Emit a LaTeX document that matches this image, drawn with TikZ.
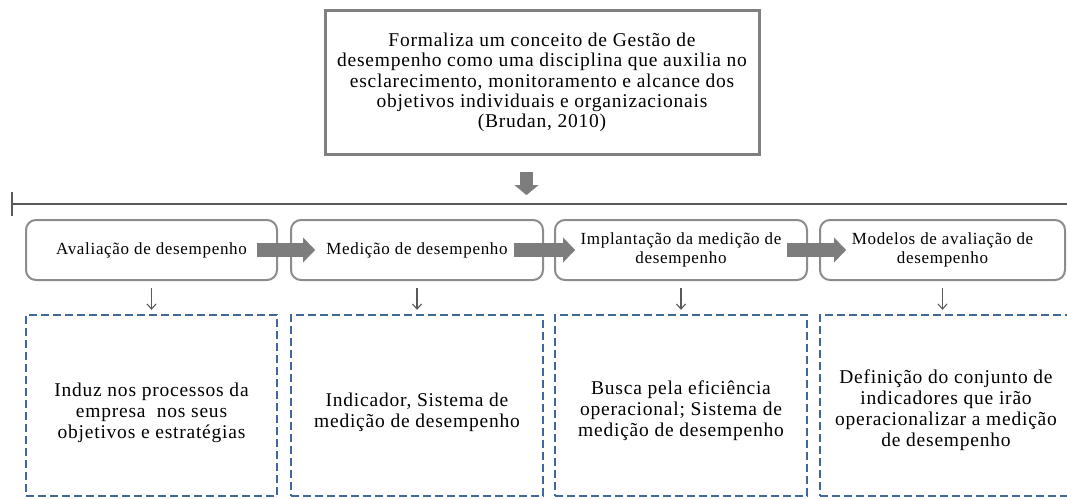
\documentclass[tikz,border=0pt]{standalone}
\usepackage{fontspec}
\setmainfont{Liberation Serif}[LetterSpace=4]
\usetikzlibrary{arrows.meta}
\definecolor{boxgray}{RGB}{140,140,140}
\definecolor{topgray}{RGB}{128,128,128}
\definecolor{arrgray}{RGB}{125,125,125}
\definecolor{linegray}{RGB}{90,90,90}
\definecolor{dashblue}{RGB}{66,103,155}
\newcommand\topfnt{\fontsize{19.5}{20.4}\selectfont}
\newcommand\rowfnt{\fontsize{17}{19.5}\selectfont}
\newcommand\botfnt{\fontsize{19.5}{21}\selectfont}
\tikzset{
  topbox/.style={draw=topgray, line width=3pt, fill=white, minimum width=434pt, minimum height=143pt, align=center, inner sep=0pt, font=\topfnt},
  roundbox/.style={draw=boxgray, line width=2pt, rounded corners=10pt, fill=white, minimum height=60pt, align=center, inner sep=0pt, font=\rowfnt},
  dashbox/.style={draw=dashblue, line width=2.4pt, dash pattern=on 8pt off 4pt, minimum height=181pt, inner sep=0pt},
  desc/.style={align=center, inner sep=0pt, font=\botfnt},
  blockarrow/.style={draw=arrgray, line width=14pt, -{Triangle[length=12pt,width=25pt,line width=0.1pt]}},
  blockdown/.style={draw=arrgray, line width=13pt, -{Triangle[length=10pt,width=24pt,line width=0.1pt]}},
  smallarr/.style={draw=linegray, line width=1.1pt, -{Straight Barb[length=5pt,width=9pt]}},
  hline/.style={draw=linegray, line width=1.5pt}
}
\begin{document}
\begin{tikzpicture}[x=1pt,y=-1pt]
\useasboundingbox[fill=white] (0,0) rectangle (1067,500);
% top box
\node[topbox] (top) at (542,82.5) {Formaliza um conceito de Gestão de\\desempenho como uma disciplina que auxilia no\\esclarecimento, monitoramento e alcance dos\\objetivos individuais e organizacionais\\(Brudan, 2010)};
% timeline
\coordinate (hl) at (12,204);
\coordinate (hr) at (1070,204);
\coordinate (tickt) at (12,192);
\coordinate (tickb) at (12,216);
\draw[hline] (hl) -- (hr);
\draw[hline] (tickt) -- (tickb);
\coordinate (dtip) at (526.5,195);
\draw[blockdown] ([xshift=-15.5pt,yshift=-16pt]top.south) -- (dtip);
% stage boxes
\node[roundbox, minimum width=251pt] (a1) at (151.5,250) {Avaliação de desempenho};
\node[roundbox, minimum width=252pt] (a2) at (417,250) {Medição de desempenho};
\node[roundbox, minimum width=252pt] (a3) at (681,250) {Implantação da medição de\\desempenho};
\node[roundbox, minimum width=245pt] (a4) at (942.5,250) {Modelos de avaliação de\\desempenho};
% block arrows
\draw[blockarrow] ([xshift=-21pt]a1.east) -- ([xshift=25pt]a2.west);
\draw[blockarrow] ([xshift=-30pt]a2.east) -- ([xshift=21pt]a3.west);
\draw[blockarrow] ([xshift=-21pt]a3.east) -- ([xshift=27pt]a4.west);
% description boxes
\node[dashbox, minimum width=251pt] (d1) at (151.5,405.5) {};
\node[dashbox, minimum width=252pt] (d2) at (417,405.5) {};
\node[dashbox, minimum width=252pt] (d3) at (681,405.5) {};
\node[dashbox, minimum width=252pt] (d4) at (946,405.5) {};
\node[desc] (t1) at ([yshift=-7pt]d1.center) {Induz nos processos da\\empresa \ nos seus\\objetivos e estratégias};
\node[desc] (t2) at ([yshift=-7pt]d2.center) {Indicador, Sistema de\\medição de desempenho};
\node[desc] (t3) at ([yshift=-5pt]d3.center) {Busca pela eficiência\\operacional; Sistema de\\medição de desempenho};
\node[desc] (t4) at ([yshift=-5pt]d4.center) {Definição do conjunto de\\indicadores que irão\\operacionalizar a medição\\de desempenho};
% small arrows
\foreach \i in {1,2,3,4}{
  \path (a\i.south |- d\i.north) coordinate (e\i);
  \draw[smallarr] ([yshift=-7pt]a\i.south) -- ([yshift=4pt]e\i);
}
\end{tikzpicture}
\end{document}
